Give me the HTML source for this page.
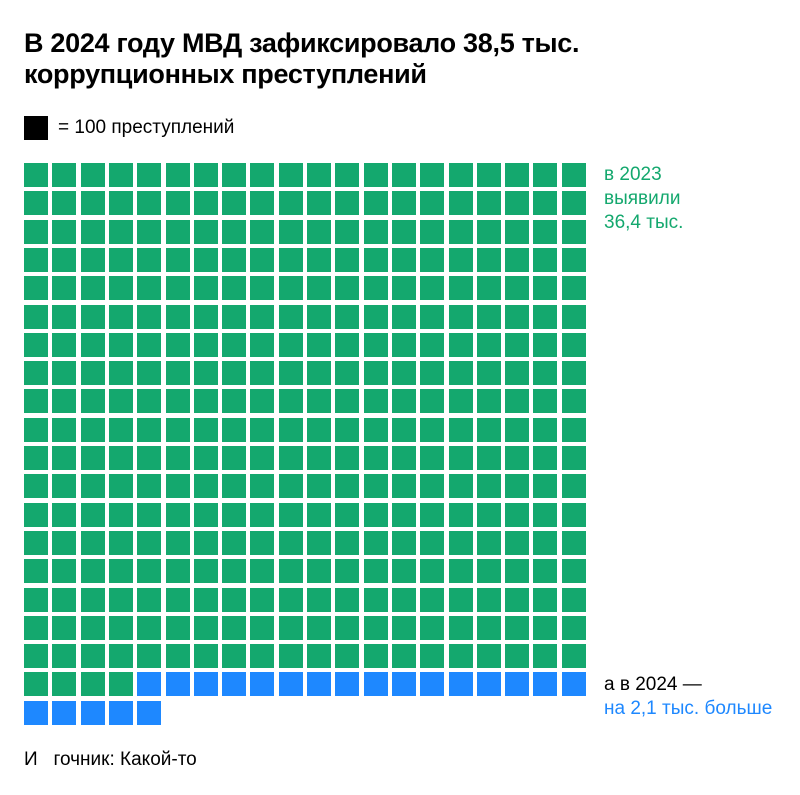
<!DOCTYPE html>
<html><head><meta charset="utf-8"><style>
body{margin:0;width:800px;height:795px;background:#fff;position:relative;font-family:"Liberation Sans",sans-serif;overflow:hidden}
.t{position:absolute;left:24px;top:28px;font-size:27px;font-weight:bold;line-height:31px;color:#000;letter-spacing:-0.3px}
.a{position:absolute;font-size:19px;line-height:24px}
.sq{position:absolute;width:24px;height:24px}
</style></head><body>
<div class="t">В 2024 году МВД зафиксировало 38,5 тыс.<br>коррупционных преступлений</div>
<div class="sq" style="left:24px;top:116px;background:#000"></div>
<div class="a" style="left:58px;top:116px;color:#000">= 100 преступлений</div>
<div class="a" style="left:604px;top:163px;color:#14a86e;line-height:24px">в 2023<br>выявили<br>36,4 тыс.</div>
<div class="a" style="left:604px;top:673px;color:#000;line-height:24px">а в 2024 —<br><span style="color:#1e88ff">на 2,1 тыс. больше</span></div>
<div class="a" style="left:24px;top:748px;color:#000">И&nbsp;&nbsp;&nbsp;гочник: Какой-то</div>
<div id="g"></div>
<script>
var h='';for(var i=0;i<385;i++){var r=Math.floor(i/20),c=i%20;var col=i<364?'#14a86e':'#1e88ff';h+='<div class="sq" style="left:'+Math.round(24+c*28.3)+'px;top:'+Math.round(163+r*28.3)+'px;background:'+col+'"></div>';}
document.getElementById('g').innerHTML=h;
</script>
</body></html>
